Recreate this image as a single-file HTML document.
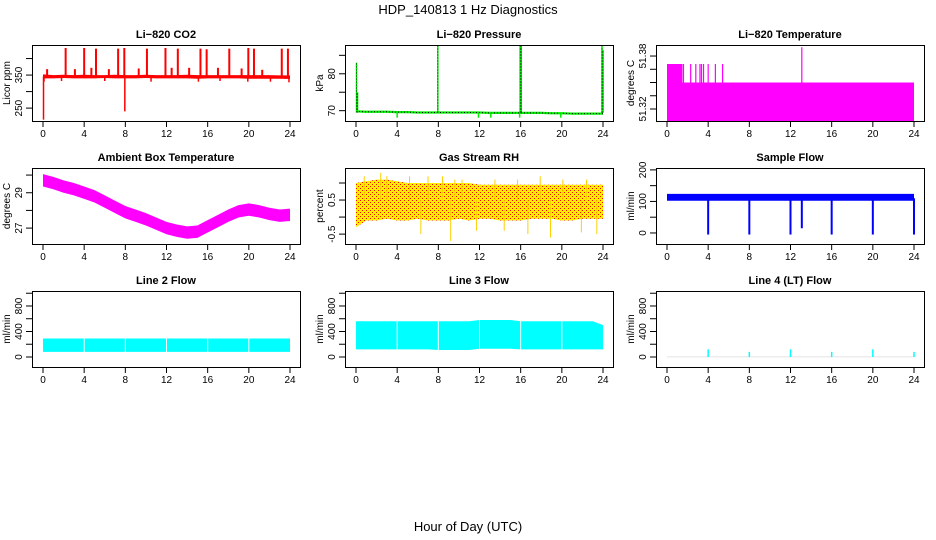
<!DOCTYPE html>
<html><head><meta charset="utf-8"><style>
html,body{margin:0;padding:0;background:#fff}
svg{display:block;font-family:"Liberation Sans",sans-serif}
</style></head><body>
<svg id="c" width="936" height="540" viewBox="0 0 936 540">
<defs>
<pattern id="reddots" width="4" height="4" patternUnits="userSpaceOnUse"><rect x="0" y="0" width="1" height="1" fill="#ff0000"/><rect x="2" y="2" width="1" height="1" fill="#ff0000"/></pattern>
</defs>
<text x="468" y="14" font-size="13" text-anchor="middle">HDP_140813  1 Hz Diagnostics</text>
<text x="468" y="531" font-size="13" text-anchor="middle">Hour of Day (UTC)</text>
</svg>
<script>
// ---- data ----
const hourTicks=[0,4,8,12,16,20,24];
const hours=[0,1,2,3,4,5,6,7,8,9,10,11,12,13,14,15,16,17,18,19,20,21,22,23,24];
// CO2
const co2Low=[340,340,341,340,340,340,341,340,340,340,341,340,340,340,340,339,340,340,340,340,339,339,339,339,338];
const co2High=[352,350,351,350,351,350,350,351,350,350,351,350,350,350,351,350,350,350,350,350,350,350,350,349,349];
const co2SpikeHours=[2.2,4.0,5.15,7.3,7.9,10.1,11.9,13.1,15.3,15.9,18.1,19.95,20.5,23.2,23.8,3.1,4.7,6.4,9.3,12.5,14.2,17.0,19.3,21.3,0.4];
const co2SpikeValues=[432,432,430,430,432,430,432,430,430,428,430,432,430,430,430,368,372,368,370,372,372,372,370,366,368];
const co2DipHours=[0.05,0.1,7.95,1.8,6.0,10.5,15.1,17.2,19.9,22.1,23.9];
const co2DipValues=[215,330,240,332,332,330,330,332,330,330,328];
// Pressure
const presBase=[69.8,69.7,69.7,69.7,69.6,69.6,69.5,69.5,69.5,69.5,69.5,69.5,69.5,69.4,69.4,69.4,69.4,69.4,69.4,69.3,69.3,69.2,69.2,69.2,69.2];
const presSpikeHours=[0.05,0.15,7.95,15.95,16.05,23.9,24.0];
const presSpikeValues=[83,75,88,88,88,87.5,86.5];
const presDipHours=[4.0,11.9,13.1,15.9,19.9];
const presDipValues=[68.1,68.1,68.1,68.1,68.1];
// Li-820 temperature
const tempLevel=51.35;
const tempHighBlock=[0,1.5];
const tempHighValue=51.371;
const tempSpikeHours=[1.6,2.3,2.8,3.2,3.35,3.55,4.0,4.7,5.4,13.1];
const tempSpikeValues=[51.371,51.371,51.371,51.371,51.371,51.371,51.371,51.371,51.371,51.39];
// Ambient box temperature
const ambCenter=[29.7,29.55,29.35,29.2,29.0,28.8,28.5,28.2,27.9,27.7,27.5,27.25,27.0,26.85,26.75,26.8,27.1,27.4,27.7,27.95,28.05,27.95,27.8,27.7,27.75];
const ambHalf=[0.35,0.35,0.35,0.35,0.35,0.35,0.35,0.35,0.35,0.35,0.35,0.35,0.35,0.35,0.35,0.35,0.35,0.35,0.35,0.35,0.35,0.35,0.35,0.35,0.35];
// Gas stream RH
const rhLow=[-0.3,-0.1,-0.1,-0.05,-0.1,-0.1,-0.05,-0.1,-0.1,-0.1,-0.05,-0.1,-0.05,-0.05,-0.1,-0.1,-0.1,-0.05,-0.05,-0.05,-0.1,-0.1,-0.05,-0.05,-0.05];
const rhHigh=[1.0,1.05,1.1,1.1,1.05,1.0,1.0,1.0,1.0,1.0,1.0,1.0,0.95,0.95,0.95,0.95,0.95,0.95,0.95,0.95,0.95,0.95,0.95,0.95,0.95];
const rhSpikeHours=[0.8,2.4,3.0,5.2,7.0,8.4,9.6,10.3,13.5,15.7,17.9,20.1,22.4,6.3,9.2,11.7,14.4,16.7,18.9,21.9,23.4];
const rhSpikeValues=[1.2,1.3,1.2,1.2,1.2,1.2,1.1,1.1,1.1,1.1,1.2,1.1,1.1,-0.5,-0.7,-0.4,-0.4,-0.5,-0.6,-0.45,-0.5];
// Sample flow
const sfLow=102, sfHigh=124;
const sfDropHours=[4,8,12,13.1,16,20,24];
const sfDropValues=[-5,-5,-5,15,-5,-5,-5];
// Line flows
const l2Low=80, l2High=290;
const l3Low=[120,120,120,120,120,120,120,120,110,110,110,110,130,130,130,130,120,120,120,120,120,120,120,120,120];
const l3High=[560,560,560,560,560,560,560,560,560,560,560,560,580,580,580,580,560,560,560,560,560,560,560,560,500];
const flowGapHours=[4,8,12,16,20];
const l4SpikeHours=[4,8,12,16,20,24];
const l4SpikeValues=[120,80,120,80,120,80];

// ---- layout ----
const NS="http://www.w3.org/2000/svg";
const svg=document.getElementById('c');
const colX0=[43,356,667], rowTop=[45,168,291], W=247, H=76;
function mk(tag,attrs,parent){const e=document.createElementNS(NS,tag);for(const k in attrs)e.setAttribute(k,attrs[k]);(parent||svg).appendChild(e);return e;}

function panel(col,row,name,title,ylab,dom,ticks,labels){
  const g=mk('g',{});
  
  
  const x0=colX0[col], top=rowTop[row], bot=top+H, L=x0-11, R=x0+W+10;
  const sx=h=>x0+h*W/24;
  const sy=v=>bot-(v-dom[0])/(dom[1]-dom[0])*H;
  const t=mk('text',{x:(L+R)/2,y:top-7,'font-size':11,'font-weight':'bold','text-anchor':'middle'},g);
  t.textContent=title;
  
  
  const plot=mk('g',{},g);
  
  
  const ax=mk('g',{},g);
  
  
  hourTicks.forEach(h=>{
    mk('line',{x1:sx(h),x2:sx(h),y1:bot,y2:bot+6,stroke:'#000'},ax);
    const tl=mk('text',{x:sx(h),y:bot+16,'font-size':10,'text-anchor':'middle'},ax);
    tl.textContent=h;
  });
  ticks.forEach(v=>{mk('line',{x1:L-6,x2:L,y1:sy(v),y2:sy(v),stroke:'#000'},ax);});
  labels.forEach(v=>{
    const yy=sy(v);
    const tl=mk('text',{x:L-10,y:yy,'font-size':10,'text-anchor':'middle',transform:`rotate(-90 ${L-10} ${yy})`},ax);
    tl.textContent=String(v);
  });
  const yl=mk('text',{x:L-22,y:(top+bot)/2,'font-size':10,'text-anchor':'middle',transform:`rotate(-90 ${L-22} ${(top+bot)/2})`},ax);
  yl.textContent=ylab;
  
  
  mk('rect',{x:L+0.5,y:top+0.5,width:R-L,height:H,fill:'none',stroke:'#000'},ax);
  const clip=mk('clipPath',{id:'cl'+name},g);
  mk('rect',{x:L,y:top,width:R-L+1,height:H+1},clip);
  plot.setAttribute('clip-path',`url(#cl${name})`);
  return {plot,sx,sy,top,bot};
}
function band(p,xs,lo,hi,fill,name){
  let d='M'+xs.map((h,i)=>p.sx(h)+','+p.sy(hi[i])).join('L');
  d+='L'+xs.slice().reverse().map((h,j)=>{const i=xs.length-1-j;return p.sx(h)+','+p.sy(lo[i]);}).join('L')+'Z';
  const e=mk('path',{d:d,fill:fill,stroke:'none'},p.plot);
  
  
  return e;
}
function vlines(p,hs,from,to,color,w,name,dash){
  hs.forEach((h,i)=>{
    const a=Array.isArray(from)?from[i]:from, b=Array.isArray(to)?to[i]:to;
    const e=mk('line',{x1:p.sx(h),x2:p.sx(h),y1:p.sy(a),y2:p.sy(b),stroke:color,'stroke-width':w},p.plot);
    if(dash)e.setAttribute('stroke-dasharray',dash);
    
    
  });
}

// CO2
let p=panel(0,0,'co2','Li−820 CO2','Licor ppm',[211,441],[250,300,350,400],[250,350]);
band(p,hours,co2Low,co2High,'#ff0000','co2-band');
vlines(p,co2SpikeHours,345,co2SpikeValues,'#ff0000',2,'co2-spike');
vlines(p,co2DipHours,345,co2DipValues,'#ff0000',1.5,'co2-dip');

// Pressure
p=panel(1,0,'pressure','Li−820 Pressure','kPa',[67.2,87.8],[70,75,80,85],[70,80]);
band(p,hours,presBase.map(v=>v-0.3),presBase.map(v=>v+0.3),'#00ee00','pressure-band');
const pl=mk('polyline',{points:hours.map((h,i)=>p.sx(h)+','+p.sy(presBase[i])).join(' '),fill:'none',stroke:'#000','stroke-dasharray':'1 2'},p.plot);


vlines(p,presSpikeHours,69.5,presSpikeValues,'#00ee00',1.5,'pressure-spike');
vlines(p,presSpikeHours,69.5,presSpikeValues,'#000',0.8,'pressure-spike-dots','1 2');
vlines(p,presDipHours,69.5,presDipValues,'#00ee00',1.5,'pressure-dip');

// Li-820 temperature
p=panel(2,0,'li820-temp','Li−820 Temperature','degrees C',[51.3064,51.3925],[51.32,51.335,51.35,51.365,51.38],[51.32,51.38]);
band(p,[0,24],[51.2,51.2],[tempLevel,tempLevel],'#ff00ff','temp-fill');
band(p,tempHighBlock,[51.2,51.2],[tempHighValue,tempHighValue],'#ff00ff','temp-early-block');
vlines(p,tempSpikeHours,51.3,tempSpikeValues,'#ff00ff',1.2,'temp-spike');

// Ambient
p=panel(0,1,'ambient','Ambient Box Temperature','degrees C',[26.1,30.4],[27,28,29,30],[27,29]);
band(p,hours,ambCenter.map((c,i)=>c-ambHalf[i]),ambCenter.map((c,i)=>c+ambHalf[i]),'#ff00ff','ambient-band');

// RH
p=panel(1,1,'rh','Gas Stream RH','percent',[-0.79,1.44],[-0.5,0,0.5,1],[-0.5,0.5]);
band(p,hours,rhLow,rhHigh,'#ffee00','rh-band');
band(p,hours,rhLow,rhHigh,'url(#reddots)','rh-dots');
vlines(p,rhSpikeHours,0.5,rhSpikeValues,'#ffd000',1,'rh-spike');

// Sample flow
p=panel(2,1,'sample-flow','Sample Flow','ml/min',[-35,206],[0,50,100,150,200],[0,100,200]);
band(p,[0,24],[sfLow,sfLow],[sfHigh,sfHigh],'#0000ff','sample-flow-band');
vlines(p,sfDropHours,110,sfDropValues,'#0000ff',2,'sample-flow-drop');

// Line 2
p=panel(0,2,'line2','Line 2 Flow','ml/min',[-157,1035],[0,200,400,600,800,1000],[0,400,800]);
band(p,[0,24],[l2Low,l2Low],[l2High,l2High],'#00ffff','line2-band');
vlines(p,flowGapHours,l2Low-5,l2High+5,'#fff',1,'line2-gap');

// Line 3
p=panel(1,2,'line3','Line 3 Flow','ml/min',[-157,1035],[0,200,400,600,800,1000],[0,400,800]);
band(p,hours,l3Low,l3High,'#00ffff','line3-band');
vlines(p,flowGapHours,100,600,'#fff',1,'line3-gap');

// Line 4
p=panel(2,2,'line4','Line 4 (LT) Flow','ml/min',[-157,1035],[0,200,400,600,800,1000],[0,400,800]);
band(p,[0,24],[-3,-3],[3,3],'#b8b8b8','line4-baseline');
vlines(p,l4SpikeHours,0,l4SpikeValues,'#00ffff',1.5,'line4-spike');
</script>
</body></html>
